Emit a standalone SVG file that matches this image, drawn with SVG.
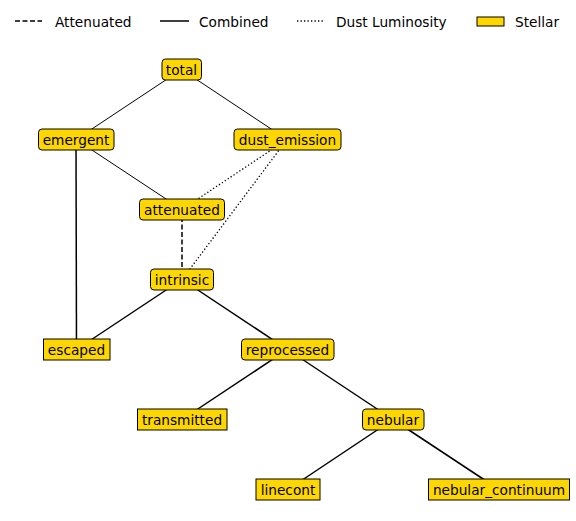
<svg xmlns="http://www.w3.org/2000/svg" width="576" height="521" viewBox="0 0 576 521">
<style>
text{font-family:"DejaVu Sans",sans-serif;font-size:13.7px;fill:#000}
.n text{text-anchor:middle}
.box{fill:#FFD700;stroke:#000;stroke-width:1}
.e{stroke:#000;fill:none}
.thin{stroke-width:1}
.thick{stroke-width:1.5}
.dot{stroke-width:1.3;stroke-dasharray:1.3 2.2}
.dash{stroke-width:1.5;stroke-dasharray:5 2.5}
</style>
<rect width="576" height="521" fill="#fff"/>
<g id="legend">
<line class="e dash" x1="15" y1="21" x2="42" y2="21"/>
<text x="55" y="26.5">Attenuated</text>
<line class="e thick" x1="160" y1="21" x2="189" y2="21"/>
<text x="199" y="26.5">Combined</text>
<line class="e dot" x1="297" y1="21" x2="325" y2="21"/>
<text x="336" y="26.5">Dust Luminosity</text>
<rect class="box" x="477" y="17" width="27" height="9"/>
<text x="515" y="26.5">Stellar</text>
</g>
<g id="connectors">
<line class="e thin" x1="181.5" y1="69.5" x2="76" y2="139.5"/>
<line class="e thin" x1="181.5" y1="69.5" x2="287" y2="139.5"/>
<line class="e thin" x1="76" y1="139.5" x2="182" y2="209.5"/>
<line class="e thick" x1="76" y1="139.5" x2="76.5" y2="349.5"/>
<line class="e dot" x1="287" y1="139.5" x2="182" y2="209.5"/>
<line class="e dot" x1="287" y1="139.5" x2="182" y2="279.5"/>
<line class="e dash" x1="182" y1="209.5" x2="182" y2="279.5"/>
<line class="e thick" x1="182" y1="279.5" x2="76.5" y2="349.5"/>
<line class="e thick" x1="182" y1="279.5" x2="287.5" y2="349.5"/>
<line class="e thick" x1="287.5" y1="349.5" x2="182" y2="419.5"/>
<line class="e thick" x1="287.5" y1="349.5" x2="393" y2="419.5"/>
<line class="e thick" x1="393" y1="419.5" x2="288" y2="489.5"/>
<line class="e thick" x1="393" y1="419.5" x2="499" y2="489.5"/>
</g>
<g id="total" class="n"><rect class="box" x="162" y="59" width="39.5" height="21" rx="3.5"/><text x="181.5" y="74.5">total</text></g>
<g id="emergent" class="n"><rect class="box" x="38.5" y="129" width="75.5" height="21" rx="3.5"/><text x="76" y="144.5">emergent</text></g>
<g id="dust_emission" class="n"><rect class="box" x="234" y="129" width="107" height="21" rx="3.5"/><text x="287.5" y="144.5">dust_emission</text></g>
<g id="attenuated" class="n"><rect class="box" x="139.5" y="199" width="85" height="21" rx="3.5"/><text x="182" y="214.5">attenuated</text></g>
<g id="intrinsic" class="n"><rect class="box" x="150.5" y="269" width="63" height="21" rx="3.5"/><text x="182" y="284.5">intrinsic</text></g>
<g id="escaped" class="n"><rect class="box" x="43.5" y="339" width="66.5" height="21"/><text x="76.5" y="354.5">escaped</text></g>
<g id="reprocessed" class="n"><rect class="box" x="241.5" y="339" width="92.5" height="21" rx="3.5"/><text x="287.5" y="354.5">reprocessed</text></g>
<g id="transmitted" class="n"><rect class="box" x="137.5" y="409" width="89.5" height="21"/><text x="182" y="424.5">transmitted</text></g>
<g id="nebular" class="n"><rect class="box" x="362.5" y="409" width="61.5" height="21" rx="3.5"/><text x="393" y="424.5">nebular</text></g>
<g id="linecont" class="n"><rect class="box" x="256" y="479" width="64" height="21"/><text x="288" y="494.5">linecont</text></g>
<g id="nebular_continuum" class="n"><rect class="box" x="428.5" y="479" width="141" height="21"/><text x="499" y="494.5">nebular_continuum</text></g>
</svg>
